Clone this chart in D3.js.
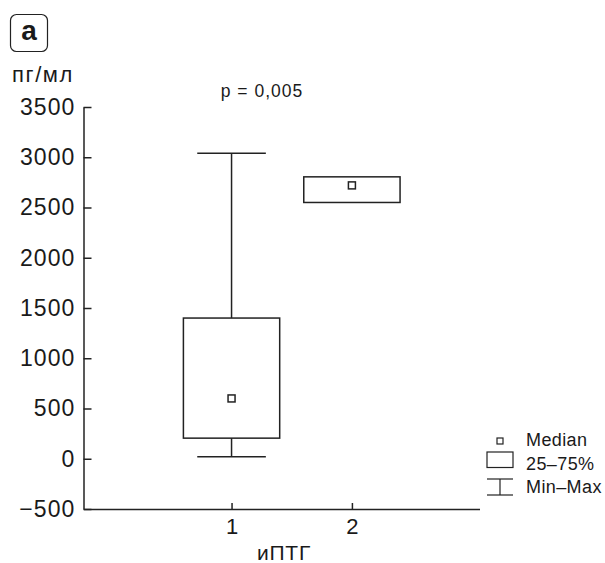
<!DOCTYPE html>
<html>
<head>
<meta charset="utf-8">
<script src="https://cdn.jsdelivr.net/npm/d3@7"></script>
<style>
  body { margin: 0; background: #fff; }
  svg { display: block; }
  text { font-family: "Liberation Sans", Arial, sans-serif; fill: #1a1a1a; }
</style>
</head>
<body>
<svg id="grafico" width="605" height="563"></svg>
<script>
// dati
var gruppi = [1, 2];
var minimi = [20, 2550];
var quartile25 = [205, 2550];
var mediane = [600, 2720];
var quartile75 = [1400, 2805];
var massimi = [3040, 2805];
var tickY = [-500, 0, 500, 1000, 1500, 2000, 2500, 3000, 3500];
var vociLegenda = ["Median", "25–75%", "Min–Max"];

var svg = d3.select("#grafico");
var colore = "#222";

var x = d3.scaleLinear().domain([-0.23, 3.06]).range([83.5, 479.5]);
var y = d3.scaleLinear().domain([-500, 3500]).range([509, 107]);

var mezzaScatola = 0.4;
var mezzoBaffo = 0.285;

// asse y
var assey = svg.append("g")
    .attr("transform", "translate(" + x(-0.23) + ",0)")
    .call(d3.axisLeft(y).tickValues(tickY).tickSizeInner(-8).tickSizeOuter(0).tickPadding(8)
        .tickFormat(d => d < 0 ? "−" + Math.abs(d) : d));
assey.selectAll("text").style("font-size", "23px").style("letter-spacing", "1.1px").attr("fill", "#1a1a1a");

// asse x
var assex = svg.append("g")
    .attr("transform", "translate(0," + y(-500) + ")")
    .call(d3.axisBottom(x).tickValues(gruppi).tickSizeInner(-6).tickSizeOuter(0).tickPadding(9)
        .tickFormat(d3.format("d")));
assex.selectAll("text").style("font-size", "22px").attr("fill", "#1a1a1a");

svg.selectAll(".domain, .tick line").attr("stroke", colore).attr("stroke-width", 1.5);

// baffi
var box = svg.append("g");
gruppi.forEach((g, i) => {
    if (massimi[i] > quartile75[i]) {
        box.append("line")
            .attr("x1", x(g)).attr("x2", x(g))
            .attr("y1", y(massimi[i])).attr("y2", y(quartile75[i]))
            .attr("stroke", colore).attr("stroke-width", 1.5);
        box.append("line")
            .attr("x1", x(g - mezzoBaffo)).attr("x2", x(g + mezzoBaffo))
            .attr("y1", y(massimi[i])).attr("y2", y(massimi[i]))
            .attr("stroke", colore).attr("stroke-width", 1.5);
    }
    if (minimi[i] < quartile25[i]) {
        box.append("line")
            .attr("x1", x(g)).attr("x2", x(g))
            .attr("y1", y(minimi[i])).attr("y2", y(quartile25[i]))
            .attr("stroke", colore).attr("stroke-width", 1.5);
        box.append("line")
            .attr("x1", x(g - mezzoBaffo)).attr("x2", x(g + mezzoBaffo))
            .attr("y1", y(minimi[i])).attr("y2", y(minimi[i]))
            .attr("stroke", colore).attr("stroke-width", 1.5);
    }
    box.append("rect")
        .attr("x", x(g - mezzaScatola))
        .attr("y", y(quartile75[i]))
        .attr("width", x(g + mezzaScatola) - x(g - mezzaScatola))
        .attr("height", y(quartile25[i]) - y(quartile75[i]))
        .attr("fill", "none").attr("stroke", colore).attr("stroke-width", 1.5);
    box.append("rect")
        .attr("x", x(g) - 3.5).attr("y", y(mediane[i]) - 3.5)
        .attr("width", 7).attr("height", 7)
        .attr("fill", "#fff").attr("stroke", colore).attr("stroke-width", 1.5);
});

// legenda
var legenda = svg.append("g").attr("transform", "translate(487,0)");
legenda.append("rect").attr("x", 10).attr("y", 438).attr("width", 6).attr("height", 6)
    .attr("fill", "#fff").attr("stroke", colore).attr("stroke-width", 1.2);
legenda.append("rect").attr("x", 0).attr("y", 452).attr("width", 26).attr("height", 15.5)
    .attr("fill", "none").attr("stroke", colore).attr("stroke-width", 1.2);
legenda.append("line").attr("x1", 0).attr("x2", 26).attr("y1", 479).attr("y2", 479)
    .attr("stroke", colore).attr("stroke-width", 1.2);
legenda.append("line").attr("x1", 0).attr("x2", 26).attr("y1", 495).attr("y2", 495)
    .attr("stroke", colore).attr("stroke-width", 1.2);
legenda.append("line").attr("x1", 13).attr("x2", 13).attr("y1", 479).attr("y2", 495)
    .attr("stroke", colore).attr("stroke-width", 1.2);
legenda.selectAll("text.voce")
    .data(vociLegenda)
    .enter()
    .append("text")
    .attr("class", "voce")
    .attr("x", 39)
    .attr("y", (d, i) => 446 + i * 23.5)
    .style("font-size", "18px")
    .style("letter-spacing", "0.4px")
    .text(d => d);

// titoli
svg.append("rect").attr("x", 10.5).attr("y", 14.5).attr("width", 37).attr("height", 37).attr("rx", 6)
    .attr("fill", "none").attr("stroke", colore).attr("stroke-width", 1.2);
svg.append("text").attr("x", 29).attr("y", 40).attr("text-anchor", "middle")
    .style("font-size", "28px").style("font-weight", "bold").text("а");
svg.append("text").attr("x", 12).attr("y", 82)
    .style("font-size", "22px").style("letter-spacing", "1.6px").text("пг/мл");
svg.append("text").attr("x", 262).attr("y", 97).attr("text-anchor", "middle")
    .style("font-size", "17.5px").style("letter-spacing", "1px").text("p = 0,005");
svg.append("text").attr("x", 284).attr("y", 560).attr("text-anchor", "middle")
    .style("font-size", "21px").style("letter-spacing", "0.8px").text("иПТГ");
</script>
</body>
</html>
